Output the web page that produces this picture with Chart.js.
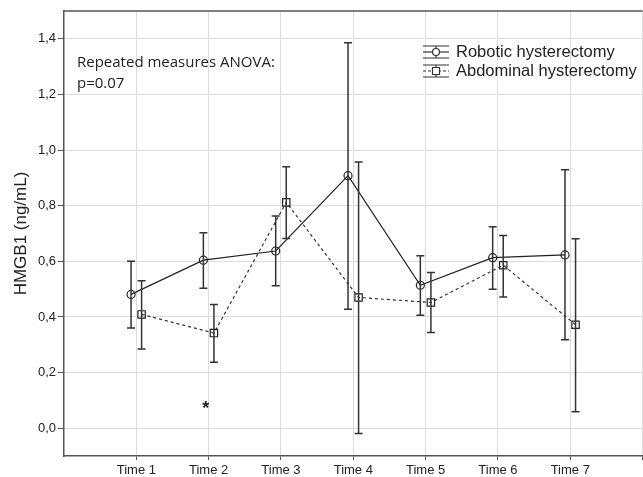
<!DOCTYPE html>
<html>
<head>
<meta charset="utf-8">
<script src="https://cdn.jsdelivr.net/npm/chart.js@4"></script>
<style>
  html, body { margin: 0; padding: 0; background: #fff; overflow: hidden; }
  #wrap { width: 649px; height: 477px; }
</style>
</head>
<body>
<div id="wrap"><canvas id="chart" width="649" height="477"></canvas></div>
<script>
const timeLabels = ["Time 1", "Time 2", "Time 3", "Time 4", "Time 5", "Time 6", "Time 7"];

// Robotic hysterectomy: mean and error bar limits
const roboticMean  = [0.481, 0.604, 0.637, 0.908, 0.514, 0.613, 0.623];
const roboticUpper = [0.600, 0.703, 0.763, 1.386, 0.620, 0.724, 0.929];
const roboticLower = [0.360, 0.503, 0.512, 0.428, 0.406, 0.500, 0.318];

// Abdominal hysterectomy
const abdominalMean  = [0.409, 0.342, 0.812, 0.470, 0.452, 0.586, 0.372];
const abdominalUpper = [0.530, 0.445, 0.940, 0.957, 0.560, 0.693, 0.681];
const abdominalLower = [0.285, 0.237, 0.682, -0.019, 0.344, 0.472, 0.059];

const yTicks = [0, 0.2, 0.4, 0.6, 0.8, 1.0, 1.2, 1.4];

const shift = 0.073; // small horizontal dodge between groups

function points(means, dx) {
    return means.map((v, i) => ({ x: i + 1 + dx, y: v }));
}

const errorBars = {
    id: 'errorBars',
    afterDatasetsDraw(chart) {
        const ctx = chart.ctx;
        const xs = chart.scales.x, ys = chart.scales.y;
        const groups = [
            [roboticUpper, roboticLower, -shift],
            [abdominalUpper, abdominalLower, shift]
        ];
        ctx.save();
        ctx.strokeStyle = '#333';
        ctx.lineWidth = 1.5;
        groups.forEach(([up, lo, dx]) => {
            up.forEach((u, i) => {
                const px = xs.getPixelForValue(i + 1 + dx);
                const pu = ys.getPixelForValue(u);
                const pl = ys.getPixelForValue(lo[i]);
                ctx.beginPath();
                ctx.moveTo(px, pu); ctx.lineTo(px, pl);
                ctx.moveTo(px - 4, pu); ctx.lineTo(px + 4, pu);
                ctx.moveTo(px - 4, pl); ctx.lineTo(px + 4, pl);
                ctx.stroke();
            });
        });
        ctx.restore();
    }
};

const extras = {
    id: 'extras',
    afterDraw(chart) {
        const ctx = chart.ctx;
        const a = chart.chartArea;
        const xs = chart.scales.x, ys = chart.scales.y;
        ctx.save();
        // top frame line
        ctx.strokeStyle = '#555';
        ctx.lineWidth = 1.5;
        ctx.beginPath();
        ctx.moveTo(a.left, a.top); ctx.lineTo(a.right, a.top);
        ctx.stroke();

        // annotation
        ctx.fillStyle = '#222';
        ctx.font = '15px "Open Sans", sans-serif';
        ctx.textBaseline = 'middle';
        ctx.fillText('Repeated measures ANOVA:', 77, 63);
        ctx.fillText('p=0.07', 77, 84);

        // asterisk at Time 2
        ctx.font = 'bold 18px "Liberation Sans", sans-serif';
        ctx.textAlign = 'center';
        ctx.fillText('*', xs.getPixelForValue(2) - 3, ys.getPixelForValue(0.075) + 2);

        // legend
        const items = [
            ['Robotic hysterectomy', [], 'circle', 52],
            ['Abdominal hysterectomy', [3, 2], 'rect', 71]
        ];
        ctx.textAlign = 'left';
        ctx.font = '16.5px "Liberation Sans", Arial, sans-serif';
        items.forEach(([label, dash, shape, y]) => {
            const x0 = 423, x1 = 449, cx = 436;
            ctx.strokeStyle = '#333';
            ctx.lineWidth = 1.2;
            ctx.setLineDash([]);
            ctx.beginPath();
            ctx.moveTo(x0, y - 6); ctx.lineTo(x1, y - 6);
            ctx.moveTo(x0, y + 6); ctx.lineTo(x1, y + 6);
            ctx.moveTo(cx, y - 6); ctx.lineTo(cx, y + 6);
            ctx.stroke();
            ctx.setLineDash(dash);
            ctx.beginPath();
            ctx.moveTo(x0, y); ctx.lineTo(x1, y);
            ctx.stroke();
            ctx.setLineDash([]);
            ctx.fillStyle = '#fff';
            ctx.beginPath();
            if (shape === 'circle') ctx.arc(cx, y, 3.5, 0, Math.PI * 2);
            else ctx.rect(cx - 3.5, y - 3.5, 7, 7);
            ctx.fill(); ctx.stroke();
            ctx.fillStyle = '#222';
            ctx.fillText(label, 456, y);
        });
        ctx.restore();
    }
};

const ctx = document.getElementById('chart').getContext('2d');
new Chart(ctx, {
    type: 'line',
    data: {
        datasets: [
            {
                label: 'Robotic hysterectomy',
                data: points(roboticMean, -shift),
                borderColor: '#222',
                borderWidth: 1.2,
                pointStyle: 'circle',
                pointRadius: 4,
                pointBorderWidth: 1.2,
                pointBorderColor: '#222',
                pointBackgroundColor: 'rgba(255,255,255,0)',
                tension: 0
            },
            {
                label: 'Abdominal hysterectomy',
                data: points(abdominalMean, shift),
                borderColor: '#333',
                borderWidth: 1.2,
                borderDash: [3, 3],
                pointStyle: 'rect',
                pointRadius: 5.2,
                pointBorderWidth: 1.2,
                pointBorderColor: '#222',
                pointBackgroundColor: 'rgba(255,255,255,0)',
                tension: 0
            }
        ]
    },
    options: {
        responsive: false,
        animation: false,
        layout: { padding: { top: 11, right: 1, left: 0, bottom: 0 } },
        plugins: {
            legend: { display: false },
            tooltip: { enabled: false }
        },
        scales: {
            x: {
                type: 'linear',
                min: 0,
                max: 8,
                afterBuildTicks: s => { s.ticks = [1, 2, 3, 4, 5, 6, 7, 8].map(v => ({ value: v })); },
                afterFit: s => { s.height = 21; },
                ticks: {
                    autoSkip: false,
                    maxRotation: 0,
                    padding: 3,
                    color: '#222',
                    font: { family: '"Liberation Sans", Arial, sans-serif', size: 13 },
                    callback: v => timeLabels[v - 1] || ''
                },
                grid: { color: '#dcdcdc', lineWidth: 1, tickLength: 4, tickColor: '#555' },
                border: { color: '#555', width: 1.5 }
            },
            y: {
                min: -0.1,
                max: 1.5,
                afterBuildTicks: s => { s.ticks = yTicks.map(v => ({ value: v })); },
                afterFit: s => { s.width = 64; },
                ticks: {
                    padding: 2,
                    color: '#222',
                    font: { family: '"Liberation Sans", Arial, sans-serif', size: 13 },
                    callback: v => v.toFixed(1).replace('.', ',')
                },
                grid: { color: '#dcdcdc', lineWidth: 1, tickLength: 6, tickColor: '#555' },
                border: { color: '#555', width: 1.5 },
                title: {
                    display: true,
                    text: 'HMGB1 (ng/mL)',
                    color: '#222',
                    font: { family: '"Liberation Sans", Arial, sans-serif', size: 17 },
                    padding: { top: 11, bottom: 0 }
                }
            }
        }
    },
    plugins: [errorBars, extras]
});
</script>
</body>
</html>
